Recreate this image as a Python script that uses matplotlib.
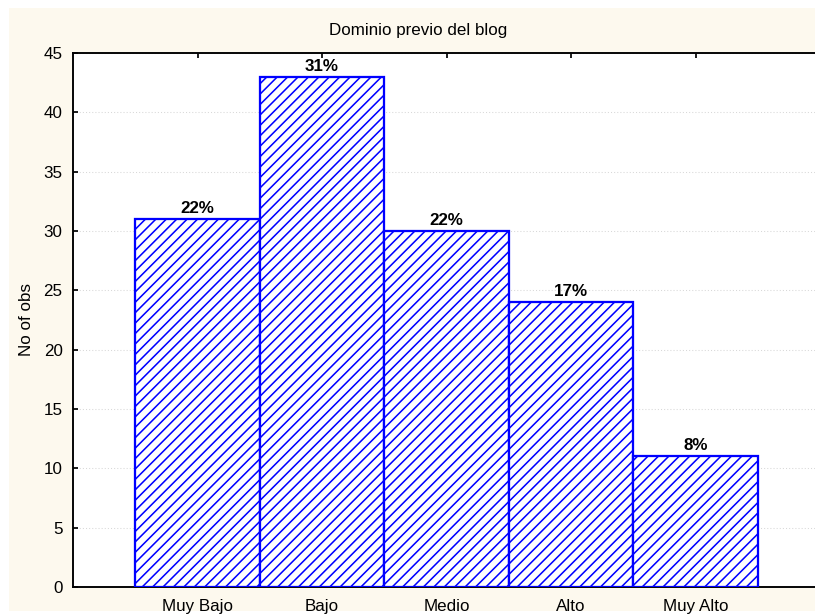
import matplotlib
matplotlib.use("Agg")
import matplotlib.pyplot as plt
from matplotlib.patches import Rectangle

categories = ["Muy Bajo", "Bajo", "Medio", "Alto", "Muy Alto"]
counts = [31, 43, 30, 24, 11]
pct_labels = ["22%", "31%", "22%", "17%", "8%"]
yticks = [0, 5, 10, 15, 20, 25, 30, 35, 40, 45]
title = "Dominio previo del blog"
ylabel = "No of obs"

DPI = 125
plt.rcParams['font.family'] = ['Liberation Sans', 'DejaVu Sans']
plt.rcParams['hatch.linewidth'] = 0.9

fig = plt.figure(figsize=(815 / DPI, 616 / DPI), dpi=DPI, facecolor='white')
fig.patches.append(Rectangle((9 / 815, 5 / 616), 1, (608 - 5) / 616,
                             transform=fig.transFigure, facecolor='#fdf9ee',
                             edgecolor='none', zorder=-10))

ax = fig.add_axes([73 / 815, 29 / 616, 747 / 815, 534 / 616])
ax.set_facecolor('white')

x = list(range(len(categories)))
bars = ax.bar(x, counts, width=1.0, color='white', edgecolor='#0000ff',
              linewidth=1.3, hatch='////', zorder=3)
for xi, c, lab in zip(x, counts, pct_labels):
    ax.text(xi, c + 0.25, lab, ha='center', va='bottom', fontsize=9.8,
            fontweight='bold', zorder=4)

ax.set_xlim(-1, 5)
ax.set_ylim(0, 45)
ax.set_yticks(yticks)
ax.set_xticks(x)
ax.set_xticklabels(categories)
ax.yaxis.grid(True, linestyle=(0, (1, 2)), color='#d8d8d8', linewidth=0.6, zorder=0)
ax.set_axisbelow(True)

for s in ['left', 'top', 'bottom']:
    ax.spines[s].set_linewidth(1.1)
    ax.spines[s].set_color('black')
ax.spines['right'].set_visible(False)

ax.tick_params(axis='both', direction='in', length=3, width=1.0, labelsize=9.8)
ax.tick_params(axis='x', top=True, pad=7)
ax.tick_params(axis='y', pad=6)

ax.set_ylabel(ylabel, fontsize=9.8)
ax.yaxis.set_label_coords(-(73 - 34) / 747, 0.5)
fig.text(418 / 815, 1 - 30 / 616, title, ha='center', va='center', fontsize=9.8)

fig.savefig('out.png', dpi=DPI, facecolor='white')
